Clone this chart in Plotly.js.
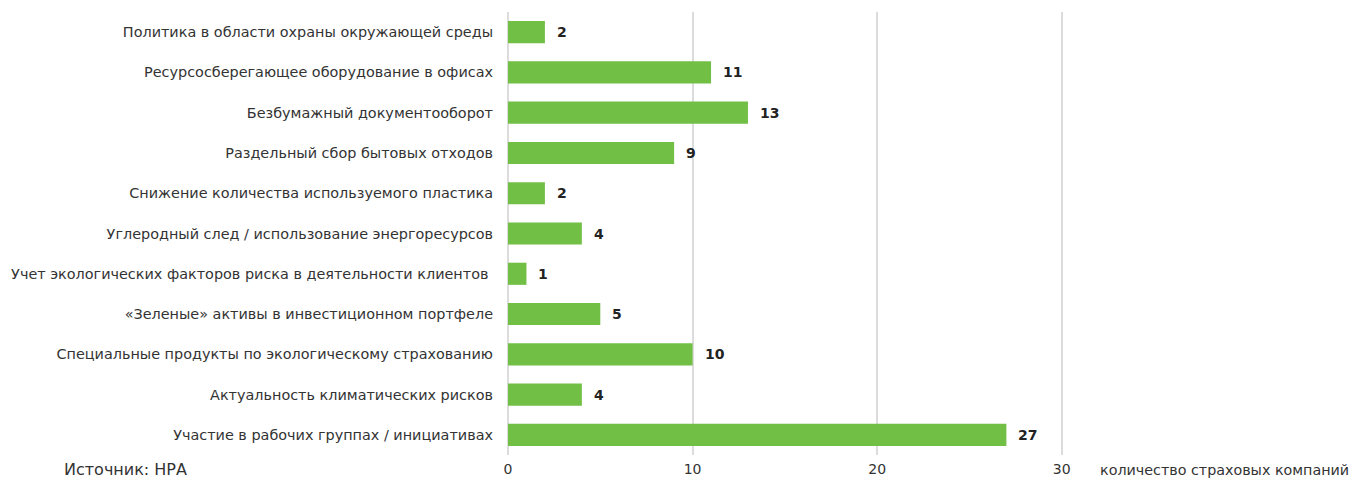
<!DOCTYPE html>
<html>
<head>
<meta charset="utf-8">
<script src="https://cdn.plot.ly/plotly-3.0.1.min.js"></script>
<style>html,body{margin:0;padding:0;background:#fff;}#chart{width:1352px;height:479px;}</style>
</head>
<body>
<div id="chart"></div>
<script>
const categories = [
  "Политика в области охраны окружающей среды",
  "Ресурсосберегающее оборудование в офисах",
  "Безбумажный документооборот",
  "Раздельный сбор бытовых отходов",
  "Снижение количества используемого пластика",
  "Углеродный след / использование энергоресурсов",
  "Учет экологических факторов риска в деятельности клиентов ",
  "«Зеленые» активы в инвестиционном портфеле",
  "Специальные продукты по экологическому страхованию",
  "Актуальность климатических рисков",
  "Участие в рабочих группах / инициативах"
];
const values = [2, 11, 13, 9, 2, 4, 1, 5, 10, 4, 27];
const tickValues = [0, 10, 20, 30];
const tickLabels = ["0", "10", "20", "30"];
const sourceText = "Источник: НРА";
const axisNote = "количество страховых компаний";

const FONT = "DejaVu Sans, sans-serif";

const trace = {
  type: "bar",
  orientation: "h",
  y: categories,
  x: values,
  width: 0.55,
  marker: {color: "#71BF45", line: {width: 0}},
  hoverinfo: "skip"
};

const annotations = categories.map((c, i) => ({
  x: values[i], y: c, xref: "x", yref: "y",
  text: "<b>" + values[i] + "</b>",
  showarrow: false, xanchor: "left", yanchor: "middle", xshift: 10,
  font: {family: FONT, size: 14, color: "#222"}
}));
annotations.push({
  xref: "x", yref: "paper", x: 0, y: 0, xshift: -446, yshift: -14,
  xanchor: "left", yanchor: "middle", showarrow: false,
  text: sourceText, font: {family: FONT, size: 16, color: "#333"}
});
annotations.push({
  xref: "x", yref: "paper", x: 30, y: 0, xshift: 36, yshift: -15,
  xanchor: "left", yanchor: "middle", showarrow: false,
  text: axisNote, font: {family: FONT, size: 14.3, color: "#333"}
});

const layout = {
  width: 1352, height: 479,
  margin: {l: 508, r: 281, t: 12, b: 24},
  paper_bgcolor: "#fff", plot_bgcolor: "#fff",
  showlegend: false,
  bargap: 0.45,
  xaxis: {
    range: [0, 30.5], tickvals: tickValues, ticktext: tickLabels,
    showgrid: true, gridcolor: "#dcdcdc", gridwidth: 2,
    zeroline: true, zerolinecolor: "#dcdcdc", zerolinewidth: 2,
    showline: false, ticks: "", ticklabelstandoff: 4,
    tickfont: {family: FONT, size: 14, color: "#333"},
    fixedrange: true
  },
  yaxis: {
    autorange: "reversed", type: "category",
    showgrid: false, zeroline: false, showline: false, ticks: "",
    ticklabelstandoff: 14,
    tickfont: {family: FONT, size: 14.4, color: "#333"},
    fixedrange: true
  },
  annotations: annotations
};

Plotly.newPlot("chart", [trace], layout, {displayModeBar: false, staticPlot: true});
</script>
</body>
</html>
